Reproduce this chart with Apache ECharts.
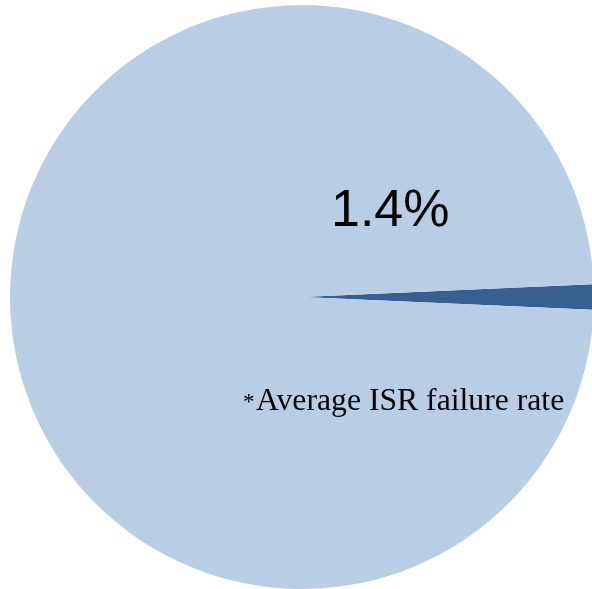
<!DOCTYPE html>
<html>
<head>
<meta charset="utf-8">
<title>Average ISR failure rate</title>
<script src="https://cdn.jsdelivr.net/npm/echarts@6/dist/echarts.min.js"></script>
<style>
  html, body { margin: 0; padding: 0; background: #ffffff; }
  #chart { width: 592px; height: 589px; }
</style>
</head>
<body>
<div id="chart"></div>
<script>
// Share of ISR attempts: failed vs. successful (percent)
const categories = ['ISR failure', 'ISR success'];
const values = [1.4, 98.6];
const sliceColors = ['#376092', '#B9CDE5'];
const noteText = 'Average ISR failure rate';

const chart = echarts.init(document.getElementById('chart'), null, { renderer: 'canvas' });

// Centre the failure wedge on the horizontal, pointing right
const failureSweep = values[0] / values.reduce((a, b) => a + b, 0) * 360;

chart.setOption({
  animation: false,
  series: [{
    type: 'pie',
    center: [302, 297],
    radius: 292,
    startAngle: failureSweep / 2,
    clockwise: true,
    silent: true,
    z: 1,
    label: { show: false },
    labelLine: { show: false },
    itemStyle: { borderWidth: 0 },
    data: categories.map((name, i) => ({
      name,
      value: values[i],
      itemStyle: { color: sliceColors[i] }
    }))
  }],
  graphic: {
    elements: [
      {
        type: 'text',
        x: 331,
        y: 186,
        z: 100,
        style: {
          text: values[0] + '%',
          font: '52px "Liberation Sans", Arial, sans-serif',
          fill: '#000000'
        }
      },
      {
        type: 'text',
        x: 243,
        y: 391,
        z: 100,
        style: {
          text: '*',
          font: '23px "Liberation Serif", "Times New Roman", serif',
          fill: '#000000'
        }
      },
      {
        type: 'text',
        x: 256,
        y: 386,
        z: 100,
        style: {
          text: noteText,
          font: '31.7px "Liberation Serif", "Times New Roman", serif',
          fill: '#000000'
        }
      }
    ]
  }
});
</script>
</body>
</html>
